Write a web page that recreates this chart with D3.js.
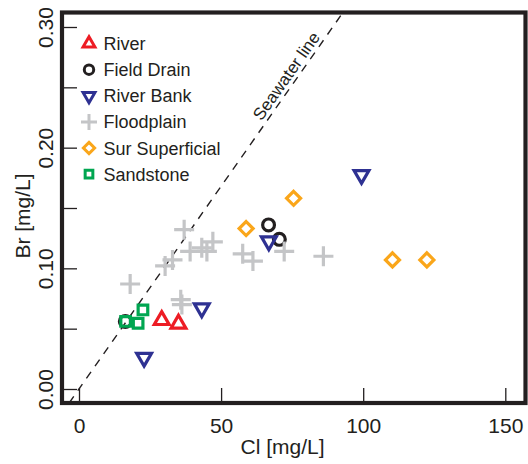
<!DOCTYPE html>
<html>
<meta charset="utf-8" />
<script src="https://cdn.jsdelivr.net/npm/d3@7"></script>
<style>
  body { margin: 0; background: #fff; }
  text { font-family: "Liberation Sans", Arial, sans-serif; fill: #231f20; }
</style>
<body>
<svg id="chart" width="528" height="464"></svg>
<script>
// values
const riverCl = [29.1, 35.0];
const riverBr = [0.057, 0.054];
const drainCl = [16.3, 66.7, 70.5];
const drainBr = [0.056, 0.136, 0.124];
const bankCl = [22.9, 43.2, 66.8, 99.4];
const bankBr = [0.026, 0.067, 0.1225, 0.1775];
const floodCl = [18.0, 30.3, 32.9, 37.0, 35.8, 36.2, 39.1, 43.2, 45.0, 47.1, 57.6, 61.2, 72.2, 86.0];
const floodBr = [0.087, 0.102, 0.107, 0.132, 0.074, 0.070, 0.114, 0.117, 0.114, 0.122, 0.112, 0.106, 0.114, 0.110];
const surCl = [58.8, 75.5, 110.3, 122.4];
const surBr = [0.133, 0.158, 0.107, 0.107];
const sandCl = [16.4, 20.8, 22.5];
const sandBr = [0.056, 0.0545, 0.0655];

const seriesNames = ["River", "Field Drain", "River Bank", "Floodplain", "Sur Superficial", "Sandstone"];
const seriesColors = ["#ed1c24", "#231f20", "#2e3192", "#c4c5c7", "#faa61a", "#00a651"];
const seriesShapes = ["up", "circle", "down", "plus", "diamond", "square"];

const xTicks = [0, 50, 100, 150];
const yTicks = [0, 0.05, 0.1, 0.15, 0.2, 0.25, 0.3];
const yLabelled = [0, 0.1, 0.2, 0.3];
const seawaterRatio = 0.00336;

const series = seriesNames.map((name, i) => {
  const cl = [riverCl, drainCl, bankCl, floodCl, surCl, sandCl][i];
  const br = [riverBr, drainBr, bankBr, floodBr, surBr, sandBr][i];
  return { name: name, color: seriesColors[i], shape: seriesShapes[i],
           points: cl.map((c, j) => ({ cl: c, br: br[j] })) };
});

const ink = "#231f20";
const frame = { left: 62, top: 12.5, right: 525.5, bottom: 403 };

const x = d3.scaleLinear().domain([0, 150]).range([79, 505.3]);
const y = d3.scaleLinear().domain([0, 0.3]).range([389, 27]);

const svg = d3.select("#chart");

function shapePath(shape, k) {
  const p = d3.path();
  if (shape === "up" || shape === "down") {
    const a = 7.4 * k, r = a / 0.866, s = shape === "up" ? 1 : -1;
    p.moveTo(0, -r * s);
    p.lineTo(a, (r / 2) * s);
    p.lineTo(-a, (r / 2) * s);
    p.closePath();
  } else if (shape === "circle") {
    const r = 5.9 * k;
    p.moveTo(r, 0);
    p.arc(0, 0, r, 0, 2 * Math.PI);
  } else if (shape === "plus") {
    const h = 10 * k;
    p.moveTo(-h, 0); p.lineTo(h, 0);
    p.moveTo(0, -h); p.lineTo(0, h);
  } else if (shape === "diamond") {
    const d = 7 * k;
    p.moveTo(0, -d); p.lineTo(d, 0); p.lineTo(0, d); p.lineTo(-d, 0);
    p.closePath();
  } else {
    const s = 4.8 * k;
    p.rect(-s, -s, 2 * s, 2 * s);
  }
  return p.toString();
}

// seawater line, clipped to the frame
svg.append("clipPath").attr("id", "plotClip")
  .append("rect")
  .attr("x", frame.left).attr("y", frame.top)
  .attr("width", frame.right - frame.left).attr("height", frame.bottom - frame.top);

const brLo = y.invert(frame.bottom), brHi = y.invert(frame.top);
const p1 = [x(brLo / seawaterRatio), y(brLo)];
const p2 = [x(brHi / seawaterRatio), y(brHi)];

svg.append("line")
  .attr("clip-path", "url(#plotClip)")
  .attr("x1", p1[0]).attr("y1", p1[1])
  .attr("x2", p2[0]).attr("y2", p2[1])
  .attr("stroke", ink)
  .attr("stroke-width", 1.4)
  .attr("stroke-dasharray", "8,7");

const len = Math.hypot(p2[0] - p1[0], p2[1] - p1[1]);
const ux = (p2[0] - p1[0]) / len, uy = (p2[1] - p1[1]) / len;
const angle = Math.atan2(uy, ux) * 180 / Math.PI;
const labelCl = 75.8;
const lx = x(labelCl) + 4 * uy, ly = y(labelCl * seawaterRatio) - 4 * ux;

svg.append("text")
  .attr("transform", `translate(${lx},${ly}) rotate(${angle})`)
  .attr("text-anchor", "middle")
  .style("font-size", "17px")
  .text("Seawater line");

// points
series.forEach((s) => {
  svg.append("g")
    .selectAll("path")
    .data(s.points)
    .enter()
    .append("path")
    .attr("transform", (d) => `translate(${x(d.cl)},${y(d.br)})`)
    .attr("d", shapePath(s.shape, 1))
    .attr("fill", "none")
    .attr("stroke", s.color)
    .attr("stroke-width", 3.2)
    .attr("stroke-linejoin", "miter");
});

// axes, ticks pointing inward
const xAxis = svg.append("g")
  .attr("transform", `translate(0,${frame.bottom})`)
  .call(d3.axisBottom(x).tickValues(xTicks).tickSize(-15).tickPadding(15));

const yAxis = svg.append("g")
  .attr("transform", `translate(${frame.left},0)`)
  .call(d3.axisLeft(y).tickValues(yTicks).tickSize(-15)
    .tickFormat((d) => (yLabelled.some((v) => Math.abs(v - d) < 1e-9) ? d3.format(".2f")(d) : "")));

[xAxis, yAxis].forEach((g) => {
  g.select(".domain").remove();
  g.selectAll(".tick line").attr("stroke", ink).attr("stroke-width", 1.3);
  g.selectAll(".tick text")
    .attr("fill", ink)
    .style("font-size", "21px")
    .style("font-family", '"Liberation Sans", Arial, sans-serif');
});

yAxis.selectAll(".tick text")
  .attr("x", null).attr("dy", null)
  .attr("text-anchor", "middle")
  .attr("transform", "translate(-9,0) rotate(-90)");

// frame
svg.append("rect")
  .attr("x", frame.left).attr("y", frame.top)
  .attr("width", frame.right - frame.left)
  .attr("height", frame.bottom - frame.top)
  .attr("fill", "none")
  .attr("stroke", ink)
  .attr("stroke-width", 4.2);

// axis titles
svg.append("text")
  .attr("x", 282.5).attr("y", 454)
  .attr("text-anchor", "middle")
  .style("font-size", "21px")
  .text("Cl [mg/L]");

svg.append("text")
  .attr("transform", "translate(29.5,216) rotate(-90)")
  .attr("text-anchor", "middle")
  .style("font-size", "21px")
  .text("Br [mg/L]");

// legend
const legend = svg.append("g")
  .selectAll("g")
  .data(series)
  .enter()
  .append("g")
  .attr("transform", (d, i) => `translate(89,${43.6 + i * 26.1})`);

legend.append("path")
  .attr("d", (d) => shapePath(d.shape, 0.8))
  .attr("fill", "none")
  .attr("stroke", (d) => d.color)
  .attr("stroke-width", 3)
  .attr("stroke-linejoin", "miter");

legend.append("text")
  .attr("x", 14.5).attr("y", 6.5)
  .style("font-size", "18px")
  .text((d) => d.name);
</script>
</body>
</html>
